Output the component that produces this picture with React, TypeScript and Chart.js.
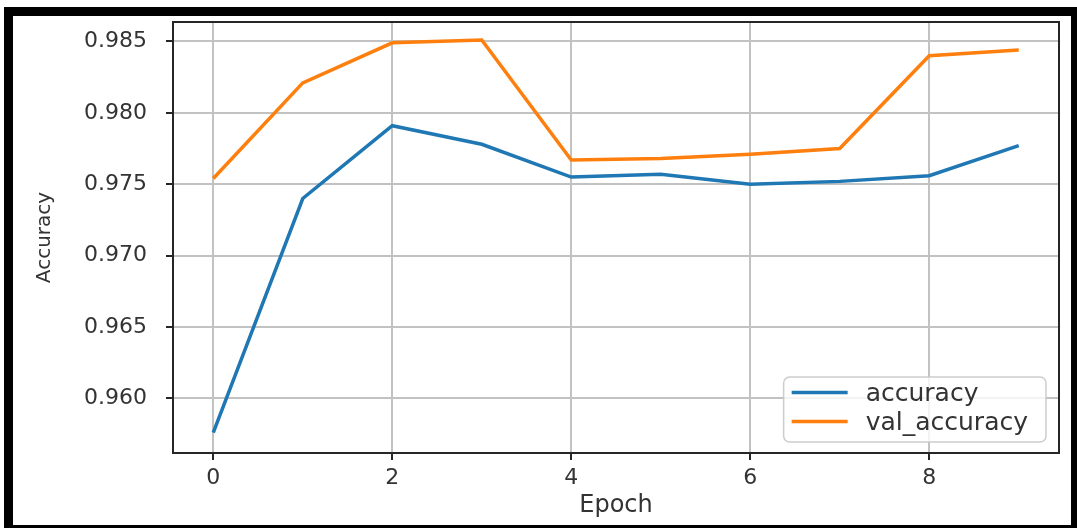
import React, { useEffect, useRef } from "react";
import { Chart, registerables } from "chart.js";

Chart.register(...registerables);

// ---- data ----
const epochs = [0, 1, 2, 3, 4, 5, 6, 7, 8, 9];
const accuracy = [0.9576, 0.974, 0.9791, 0.9778, 0.9755, 0.9757, 0.975, 0.9752, 0.9756, 0.9777];
const valAccuracy = [0.9754, 0.9821, 0.9849, 0.9851, 0.9767, 0.9768, 0.9771, 0.9775, 0.984, 0.9844];
const seriesLabels = ["accuracy", "val_accuracy"];
const xAxisTitle = "Epoch";
const yAxisTitle = "Accuracy";
const xTickStep = 2;
const yTickStep = 0.005;
const xRange = [-0.45, 9.45];
const yRange = [0.95618, 0.98636];

const FONT = "'DejaVu Sans', 'Liberation Sans', sans-serif";
const TEXT = "#333333";
const SPINE = "#262626";
const GRID = "#c2c2c2";

function roundRectPath(ctx: CanvasRenderingContext2D, x: number, y: number, w: number, h: number, r: number) {
  ctx.beginPath();
  ctx.moveTo(x + r, y);
  ctx.arcTo(x + w, y, x + w, y + h, r);
  ctx.arcTo(x + w, y + h, x, y + h, r);
  ctx.arcTo(x, y + h, x, y, r);
  ctx.arcTo(x, y, x + w, y, r);
  ctx.closePath();
}

const spinePlugin = {
  id: "spineBox",
  afterDatasetsDraw(chart: any) {
    const { ctx, chartArea: a } = chart;
    ctx.save();
    ctx.strokeStyle = SPINE;
    ctx.lineWidth = 2;
    ctx.strokeRect(a.left, a.top, a.right - a.left, a.bottom - a.top);
    ctx.restore();
  },
};

const boxLegendPlugin = {
  id: "boxLegend",
  afterDatasetsDraw(chart: any) {
    const { ctx, chartArea: a } = chart;
    const ds = chart.data.datasets;
    ctx.save();
    ctx.font = `25px ${FONT}`;
    const textW = Math.max(...ds.map((d: any) => ctx.measureText(d.label).width));
    const padL = 8;
    const lineLen = 56;
    const gap = 18;
    const padR = 18;
    const rowH = 29;
    const padT = 15.5;
    const h = 65;
    const w = padL + lineLen + gap + textW + padR;
    const left = a.right - 13 - w;
    const top = a.bottom - 11 - h;
    roundRectPath(ctx, left, top, w, h, 6);
    ctx.fillStyle = "rgba(255,255,255,0.8)";
    ctx.fill();
    ctx.strokeStyle = "rgba(200,200,200,0.9)";
    ctx.lineWidth = 1.5;
    ctx.stroke();
    ds.forEach((d: any, i: number) => {
      const y = top + padT + i * rowH;
      ctx.beginPath();
      ctx.strokeStyle = d.borderColor;
      ctx.lineWidth = 3.5;
      ctx.moveTo(left + padL, y);
      ctx.lineTo(left + padL + lineLen, y);
      ctx.stroke();
      ctx.fillStyle = TEXT;
      ctx.textAlign = "left";
      ctx.textBaseline = "middle";
      ctx.fillText(d.label, left + padL + lineLen + gap, y + 1.5);
    });
    ctx.restore();
  },
};

export default function App() {
  const canvasRef = useRef<HTMLCanvasElement | null>(null);

  useEffect(() => {
    const canvas = canvasRef.current;
    if (!canvas) return;
    const chart = new Chart(canvas, {
      type: "line",
      data: {
        datasets: [
          {
            label: seriesLabels[0],
            data: epochs.map((e, i) => ({ x: e, y: accuracy[i] })),
            borderColor: "#1f77b4",
            backgroundColor: "#1f77b4",
            borderWidth: 3.5,
            pointRadius: 0,
            tension: 0,
          },
          {
            label: seriesLabels[1],
            data: epochs.map((e, i) => ({ x: e, y: valAccuracy[i] })),
            borderColor: "#ff7f0e",
            backgroundColor: "#ff7f0e",
            borderWidth: 3.5,
            pointRadius: 0,
            tension: 0,
          },
        ],
      },
      options: {
        responsive: false,
        animation: false,
        layout: { padding: { left: 0, top: 22, right: 18, bottom: 0 } },
        plugins: {
          legend: { display: false },
          tooltip: { enabled: false },
        },
        scales: {
          x: {
            type: "linear",
            min: xRange[0],
            max: xRange[1],
            afterFit: (s: any) => {
              s.height = 75;
              s.paddingLeft = 0;
              s.paddingRight = 0;
            },
            ticks: {
              stepSize: xTickStep,
              includeBounds: false,
              padding: 5,
              maxRotation: 0,
              color: TEXT,
              font: { family: FONT, size: 22 },
              callback: (v: any) => String(v),
            },
            grid: { color: GRID, lineWidth: 2, tickColor: SPINE, tickLength: 7, tickWidth: 2 },
            border: { display: false },
            title: {
              display: true,
              text: xAxisTitle,
              color: TEXT,
              font: { family: FONT, size: 24 },
              padding: { top: 0, bottom: 8 },
            },
          },
          y: {
            type: "linear",
            min: yRange[0],
            max: yRange[1],
            afterFit: (s: any) => {
              s.width = 173;
              s.paddingTop = 0;
              s.paddingBottom = 0;
            },
            ticks: {
              stepSize: yTickStep,
              includeBounds: false,
              padding: 19,
              color: TEXT,
              font: { family: FONT, size: 22 },
              callback: (v: any) => Number(v).toFixed(3),
            },
            grid: { color: GRID, lineWidth: 2, tickColor: SPINE, tickLength: 7, tickWidth: 2 },
            border: { display: false },
            title: {
              display: true,
              text: yAxisTitle,
              color: TEXT,
              font: { family: FONT, size: 20 },
              padding: { top: 33, bottom: 0 },
            },
          },
        },
      },
      plugins: [spinePlugin, boxLegendPlugin],
    } as any);
    return () => chart.destroy();
  }, []);

  return (
    <div
      style={{
        position: "absolute",
        left: 0,
        top: 0,
        width: 1077,
        height: 528,
        overflow: "hidden",
        background: "#ffffff",
      }}
    >
      <canvas
        ref={canvasRef}
        width={1077}
        height={528}
        style={{ position: "absolute", left: 0, top: 0, width: 1077, height: 528, display: "block" }}
      />
      <div
        style={{
          position: "absolute",
          left: 4,
          top: 7,
          width: 1058,
          height: 509,
          border: "9px solid #000",
          pointerEvents: "none",
        }}
      />
    </div>
  );
}
